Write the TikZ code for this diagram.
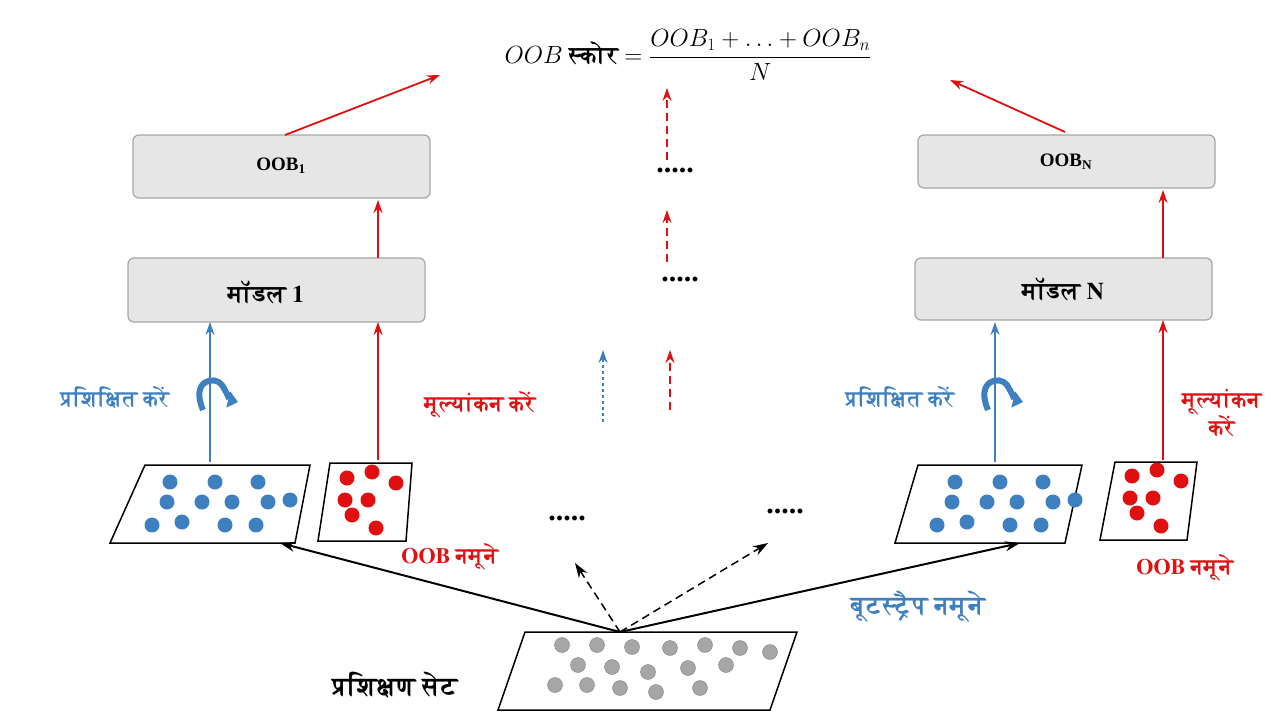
\documentclass[tikz,border=0pt]{standalone}
\usepackage{amsmath}
\usepackage{fontspec}
\setmainfont{Liberation Serif}
\newfontfamily\dev[Script=Devanagari]{FreeSerif}
\usetikzlibrary{arrows.meta}
\definecolor{bl}{HTML}{3E80BF}
\definecolor{rd}{HTML}{E01010}
\definecolor{bx}{HTML}{E6E6E6}
\tikzset{
 box/.style={draw=gray!70,fill=bx,rounded corners=6pt,line width=1.2pt},
 ra/.style={draw=rd,-{Stealth[length=13pt,width=9pt]},line width=1.8pt},
 ba/.style={draw=bl,-{Stealth[length=13pt,width=9pt]},line width=1.5pt},
 ka/.style={draw=black,-{Stealth[length=15pt,width=10pt]},line width=2pt},
 dsh/.style={dash pattern=on 8pt off 5pt},
 dt/.style={font=\bfseries\fontsize{30}{30}\selectfont},
 bdot/.style={circle,fill=bl,inner sep=0pt,minimum size=15pt},
 rdot/.style={circle,fill=rd,inner sep=0pt,minimum size=15pt},
 gdot/.style={circle,fill=gray!70,draw=gray,inner sep=0pt,minimum size=15pt},
 lab/.style={font=\dev\bfseries\fontsize{22}{26}\selectfont},
 pg/.style={line width=1.5pt},
}
\begin{document}
\begin{tikzpicture}[x=1pt,y=-1pt]
\useasboundingbox (0,0) rectangle (1280,720);
\node (f) at (688,55) {\fontsize{24}{28}\selectfont $OOB$ {\dev\bfseries स्कोर} $= \dfrac{OOB_1+\ldots+OOB_n}{N}$};
\path[box] (133,135) rectangle (430,198); \node[font=\bfseries\fontsize{19}{22}\selectfont] (o1t) at (281,166) {OOB\textsubscript{1}};
\path[box] (918,135) rectangle (1215,188); \node[font=\bfseries\fontsize{19}{22}\selectfont] (ont) at (1066,162) {OOB\textsubscript{N}};
\path[box] (128,258) rectangle (425,322); \node[font=\dev\bfseries\fontsize{24}{26}\selectfont] (m1) at (266,292) {मॉडल 1};
\path[box] (915,258) rectangle (1212,320); \node[font=\dev\bfseries\fontsize{24}{26}\selectfont] (mn) at (1063,289) {मॉडल N};
\node[dt] (d1) at (675,170) {.....};
\node[dt] (d2) at (680,279) {.....};
\node[dt] (d3) at (567,518) {.....};
\node[dt] (d4) at (785,511) {.....};
\coordinate (a1) at (285,135); \coordinate (a2) at (440,75);
\coordinate (b1) at (1065,132); \coordinate (b2) at (950,80);
\draw[ra] (a1)--(a2); \draw[ra] (b1)--(b2);
\coordinate (c1) at (667,160); \coordinate (c2) at (667,88);
\coordinate (c3) at (667,262); \coordinate (c4) at (667,210);
\coordinate (c5) at (670,410); \coordinate (c6) at (670,350);
\coordinate (c7) at (603,422); \coordinate (c8) at (603,350);
\draw[ra,dsh,line width=1.3pt] (c1)--(c2); \draw[ra,dsh,line width=1.3pt] (c3)--(c4); \draw[ra,dsh,line width=1.3pt] (c5)--(c6);
\draw[ba,dash pattern=on 3pt off 3pt,line width=1.3pt] (c7)--(c8);
\draw[pg] (145,465) -- (310,465) -- (295,543) -- (110,543) -- cycle;
\draw[pg] (330,463) -- (412,463) -- (406,541) -- (318,541) -- cycle;
\draw[pg] (918,465) -- (1082,465) -- (1065,543) -- (895,543) -- cycle;
\draw[pg] (1115,462) -- (1197,462) -- (1187,540) -- (1100,540) -- cycle;
\draw[pg] (525,632) -- (797,632) -- (770,710) -- (498,710) -- cycle;
\foreach \x/\y in {170/482,215/482,258/482,167/502,202/502,232/502,268/502,290/500,152/525,182/522,225/525,256/525}{
 \node[bdot] at (\x,\y) {}; \node[bdot] at (\x+785,\y) {};}
\foreach \x/\y in {347/478,372/472,396/483,345/500,368/500,352/515,376/528}{
 \node[rdot] at (\x,\y) {}; \node[rdot] at (\x+785,\y-2) {};}
\foreach \x/\y in {562/645,597/645,632/647,670/648,705/645,740/648,578/665,612/667,648/672,688/668,726/665,770/652,555/685,587/685,620/688,656/692,700/688}{
 \node[gdot] at (\x,\y) {};}
\coordinate (e1) at (210,462); \coordinate (e2) at (210,322);
\coordinate (e3) at (378,460); \coordinate (e4) at (378,322);
\coordinate (e5) at (378,258); \coordinate (e6) at (378,200);
\draw[ba] (e1)--(e2); \draw[ra] (e3)--(e4); \draw[ra] (e5)--(e6);
\coordinate (g1) at (995,462); \coordinate (g2) at (995,322);
\coordinate (g3) at (1163,460); \coordinate (g4) at (1163,320);
\coordinate (g5) at (1163,258); \coordinate (g6) at (1163,190);
\draw[ba] (g1)--(g2); \draw[ra] (g3)--(g4); \draw[ra] (g5)--(g6);
\foreach \dx in {0,785}{
\draw[bl,line width=6pt,-{Triangle[length=10pt,width=16pt]}] (203+\dx,410) .. controls (190+\dx,380) and (215+\dx,375) .. (222+\dx,385) .. controls (228+\dx,395) and (230+\dx,400) .. (238+\dx,402);}
\node[lab,text=bl] (l1) at (115,398) {प्रशिक्षित करें};
\node[lab,text=rd] (l2) at (480,405) {मूल्यांकन करें};
\node[lab,text=bl] (l3) at (900,398) {प्रशिक्षित करें};
\node[lab,text=rd,align=center] (l4) at (1222,413) {मूल्यांकन\\करें};
\node[lab,text=rd] (l5) at (450,557) {OOB नमूने};
\node[lab,text=rd] (l6) at (1185,568) {OOB नमूने};
\node[text=bl,font=\dev\bfseries\fontsize{26}{28}\selectfont] (l7) at (918,607) {बूटस्ट्रैप नमूने};
\node[font=\dev\bfseries\fontsize{26}{28}\selectfont] (l8) at (395,685) {प्रशिक्षण सेट};
\coordinate (t) at (620,632);
\coordinate (t1) at (280,543); \coordinate (t2) at (1020,543);
\coordinate (t3) at (575,563); \coordinate (t4) at (768,543);
\draw[ka] (t)--(t1); \draw[ka] (t)--(t2);
\draw[ka,dsh,line width=1.5pt] (t)--(t3); \draw[ka,dsh,line width=1.5pt] (t)--(t4);
\end{tikzpicture}
\end{document}
